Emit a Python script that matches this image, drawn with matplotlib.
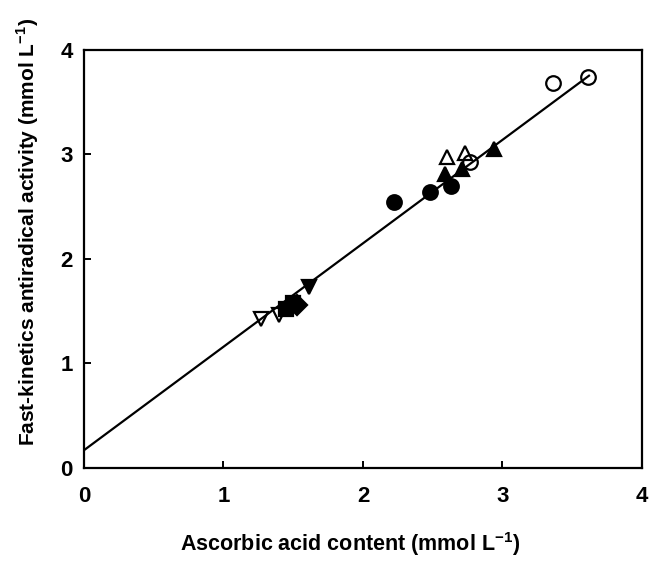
import matplotlib

matplotlib.use("Agg")

import numpy as np
from matplotlib import pyplot as plt

plt.rcParams.update(
    {
        "font.family": "Liberation Sans",
        "font.weight": "bold",
        "mathtext.fontset": "custom",
        "mathtext.rm": "Liberation Sans:bold",
        "mathtext.bf": "Liberation Sans:bold",
        "axes.linewidth": 1.6,
    }
)

# ascorbic acid (x) vs fast-kinetics antiradical activity (y), by sample group
open_circle_x = [2.77, 3.36, 3.61]
open_circle_y = [2.93, 3.68, 3.74]
filled_circle_x = [2.22, 2.48, 2.63]
filled_circle_y = [2.55, 2.64, 2.70]
open_up_x = [2.60, 2.73]
open_up_y = [2.98, 3.01]
filled_up_x = [2.59, 2.71, 2.94]
filled_up_y = [2.81, 2.86, 3.05]
open_down_x = [1.27, 1.40]
open_down_y = [1.43, 1.46]
filled_square_x = [1.45, 1.50]
filled_square_y = [1.52, 1.58]
filled_diamond_x = [1.53]
filled_diamond_y = [1.56]
filled_down_x = [1.61]
filled_down_y = [1.73]

fit_intercept = 0.17
fit_slope = 0.99
fit_x_max = 3.62

tick_values = [0, 1, 2, 3, 4]

fig = plt.figure(figsize=(6.49, 5.61), dpi=100)
ax = fig.add_axes([0.1294, 0.1658, 0.8598, 0.7451])

line_x = np.array([0.0, fit_x_max])
ax.plot(line_x, fit_intercept + fit_slope * line_x, color="black", lw=1.6, zorder=2)

series = [
    (open_circle_x, open_circle_y, "o", "white"),
    (filled_circle_x, filled_circle_y, "o", "black"),
    (open_up_x, open_up_y, "^", "white"),
    (filled_up_x, filled_up_y, "^", "black"),
    (open_down_x, open_down_y, "v", "white"),
    (filled_square_x, filled_square_y, "s", "black"),
    (filled_diamond_x, filled_diamond_y, "D", "black"),
    (filled_down_x, filled_down_y, "v", "black"),
]
for xs, ys, marker, face in series:
    ax.plot(
        xs,
        ys,
        linestyle="none",
        marker=marker,
        markersize=10.5,
        markerfacecolor=face if face == "black" else "none",
        markeredgecolor="black",
        markeredgewidth=1.6,
        zorder=3,
    )

ax.set_xlim(0, 4)
ax.set_ylim(0, 4)
ax.set_xticks(tick_values)
ax.set_yticks(tick_values)
ax.tick_params(direction="in", length=5, width=1.4, labelsize=16, top=False, right=False)
ax.tick_params(axis="x", pad=13)
ax.tick_params(axis="y", pad=8)
for label in ax.get_xticklabels() + ax.get_yticklabels():
    label.set_fontweight("bold")

ax.set_xlabel("Ascorbic acid content (mmol L$^{-1}$)", fontsize=15.5, fontweight="bold")
ax.xaxis.set_label_coords(0.477, -0.148)
ax.set_ylabel(
    "Fast-kinetics antiradical activity (mmol L$^{-1}$)", fontsize=15, fontweight="bold"
)
ax.yaxis.set_label_coords(-0.077, 0.565)

fig.savefig("out.png", dpi=100)
